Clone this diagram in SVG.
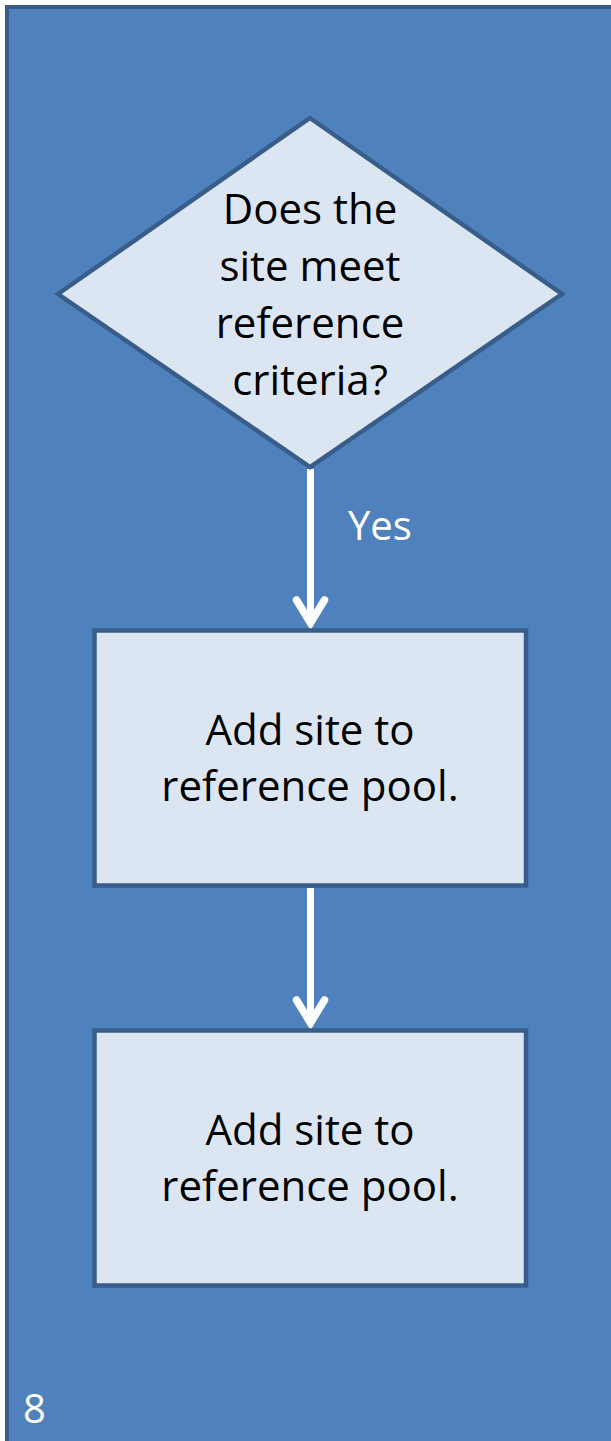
<svg xmlns="http://www.w3.org/2000/svg" width="611" height="1441" viewBox="0 0 611 1441">
  <style>
    .node { fill: #DCE6F2; stroke: #385D8A; stroke-width: 4.5; }
    .label { font-family: "Open Sans", "Liberation Sans", sans-serif; font-size: 42px; fill: #000; text-anchor: middle; }
    .wlabel { font-family: "Open Sans", "Liberation Sans", sans-serif; font-size: 40px; fill: #FFFFFF; }
    .conn { stroke: #FFFFFF; stroke-width: 7; fill: none; }
    .head { stroke: #FFFFFF; stroke-width: 7.5; fill: none; stroke-linecap: round; stroke-linejoin: miter; stroke-miterlimit: 10; }
  </style>
  <rect x="0" y="0" width="611" height="1441" fill="#FFFFFF"/>
  <rect id="background" x="7" y="7" width="700" height="1500" fill="#4F81BD" stroke="#385D8A" stroke-width="4"/>

  <g id="connectors">
    <line class="conn" x1="310.5" y1="469" x2="310.5" y2="623"/>
    <polyline class="head" points="296.5,600 310.5,623 324.5,600"/>
    <line class="conn" x1="310.5" y1="888" x2="310.5" y2="1023"/>
    <polyline class="head" points="296.5,1000 310.5,1023 324.5,1000"/>
    <text class="wlabel" x="348" y="540">Yes</text>
  </g>

  <g id="decision">
    <polygon class="node" points="310,118 562,294 310,467 58,294"/>
    <text class="label" x="310" y="224">Does the</text>
    <text class="label" x="310" y="281">site meet</text>
    <text class="label" x="310" y="338">reference</text>
    <text class="label" x="310" y="395">criteria?</text>
  </g>

  <g id="add1">
    <rect class="node" x="94.5" y="630.5" width="431.5" height="255"/>
    <text class="label" x="310" y="745">Add site to</text>
    <text class="label" x="310" y="801">reference pool.</text>
  </g>

  <g id="add2">
    <rect class="node" x="94.5" y="1030.5" width="431.5" height="255"/>
    <text class="label" x="310" y="1145">Add site to</text>
    <text class="label" x="310" y="1201">reference pool.</text>
  </g>

  <text id="page" class="wlabel" x="23" y="1423" font-size="42">8</text>
</svg>
